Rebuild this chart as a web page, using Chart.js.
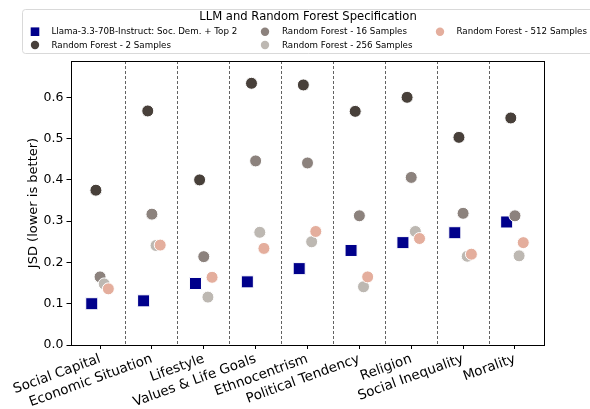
<!DOCTYPE html>
<html>
<head>
<meta charset="utf-8">
<script src="https://cdn.jsdelivr.net/npm/chart.js@4.4.0/dist/chart.umd.min.js"></script>
<style>
  html, body { margin: 0; padding: 0; background: #fff; }
  #wrap { width: 590px; height: 409px; position: relative; }
</style>
</head>
<body>
<div id="wrap"><canvas id="chart"></canvas></div>
<script>
const categories = ['Social Capital', 'Economic Situation', 'Lifestyle', 'Values & Life Goals', 'Ethnocentrism',
  'Political Tendency', 'Religion', 'Social Inequality', 'Morality'];

const seriesNames = ['Llama-3.3-70B-Instruct: Soc. Dem. + Top 2', 'Random Forest - 2 Samples',
  'Random Forest - 16 Samples', 'Random Forest - 256 Samples', 'Random Forest - 512 Samples'];

const llama = [0.100, 0.107, 0.149, 0.153, 0.185, 0.229, 0.248, 0.272, 0.298];
const rf2 = [0.375, 0.567, 0.400, 0.634, 0.630, 0.566, 0.600, 0.503, 0.550];
const rf16 = [0.165, 0.317, 0.214, 0.446, 0.441, 0.313, 0.406, 0.319, 0.313];
const rf256 = [0.148, 0.241, 0.116, 0.273, 0.250, 0.141, 0.275, 0.215, 0.216];
const rf512 = [0.136, 0.242, 0.164, 0.234, 0.275, 0.165, 0.258, 0.220, 0.248];

const allSeries = [llama, rf2, rf16, rf256, rf512];
const colors = ['#00008b', '#48403a', '#8c827d', '#bdb8b2', '#e4ae9d'];
const dodge = [-0.16, -0.08, 0, 0.08, 0.16];

Chart.defaults.font.family = 'DejaVu Sans';
Chart.defaults.color = '#000';

const datasets = allSeries.map((vals, s) => ({
  label: seriesNames[s],
  data: vals.map((v, i) => ({ x: i + dodge[s], y: v })),
  pointStyle: s === 0 ? 'rect' : 'circle',
  pointRadius: s === 0 ? 8.5 : 6,
  backgroundColor: colors[s],
  borderColor: '#fff',
  borderWidth: 1,
  showLine: false,
  order: -s
}));

// frame round the plot + legend drawn in columns like matplotlib
const frameAndLegend = {
  id: 'frameAndLegend',
  afterDraw(chart) {
    const c = chart.ctx;
    const a = chart.chartArea;
    c.save();
    c.strokeStyle = '#000';
    c.lineWidth = 1;
    c.strokeRect(Math.round(a.left) + 0.5, Math.round(a.top) + 0.5, Math.round(a.right - a.left), Math.round(a.bottom - a.top));

    c.beginPath();
    c.roundRect(22.5, 9.5, 580, 44, 3);
    c.fillStyle = 'rgba(255,255,255,0.8)';
    c.fill();
    c.strokeStyle = '#d9d9d9';
    c.stroke();

    c.fillStyle = '#000';
    c.font = '11.6px "DejaVu Sans"';
    c.textAlign = 'center';
    c.textBaseline = 'middle';
    c.fillText('LLM and Random Forest Specification', 308, 17);

    const markerX = [35, 265, 440];
    const textX = [51.5, 282, 456.5];
    const rowY = [31.7, 45];
    c.font = '8.7px "DejaVu Sans"';
    c.textAlign = 'left';
    chart.data.datasets.forEach((ds, i) => {
      const col = Math.floor(i / 2), row = i % 2;
      const mx = markerX[col], my = rowY[row];
      c.fillStyle = ds.backgroundColor;
      if (ds.pointStyle === 'rect') {
        c.fillRect(mx - 4.3, my - 4.3, 8.6, 8.6);
      } else {
        c.beginPath();
        c.arc(mx, my, 4.2, 0, Math.PI * 2);
        c.fill();
      }
      c.fillStyle = '#000';
      c.fillText(ds.label, textX[col], my + 0.5);
    });
    c.restore();
  }
};

new Chart(document.getElementById('chart'), {
  type: 'scatter',
  data: { datasets },
  plugins: [frameAndLegend],
  options: {
    responsive: true,
    maintainAspectRatio: false,
    animation: false,
    events: [],
    layout: { padding: { left: 22, top: 61, right: 46, bottom: 0 } },
    plugins: { legend: { display: false }, tooltip: { enabled: false } },
    scales: {
      x: {
        type: 'linear',
        min: -0.56,
        max: 8.56,
        afterBuildTicks: s => { s.ticks = categories.map((_, i) => ({ value: i })); },
        afterFit: s => { s.height = 64; },
        ticks: {
          autoSkip: false,
          minRotation: 20,
          maxRotation: 20,
          padding: 2,
          font: { size: 13.5 },
          callback: (v) => categories[v]
        },
        grid: { drawOnChartArea: false, drawTicks: true, tickLength: 4, color: '#000' },
        border: { color: '#000', width: 1 }
      },
      sep: {
        type: 'linear',
        position: 'bottom',
        min: -0.56,
        max: 8.56,
        afterBuildTicks: s => { s.ticks = categories.slice(1).map((_, i) => ({ value: i + 0.5 })); },
        afterFit: s => { s.height = 0; },
        ticks: { display: false },
        grid: { drawTicks: false, color: 'rgba(70,70,70,0.85)', lineWidth: 1 },
        border: { display: false, dash: [3, 2] }
      },
      y: {
        min: 0,
        max: 0.688,
        afterFit: s => { s.width = 49; },
        ticks: {
          stepSize: 0.1,
          includeBounds: false,
          padding: 3,
          font: { size: 12.5 },
          callback: v => v.toFixed(1)
        },
        grid: { drawOnChartArea: false, drawTicks: true, tickLength: 4.5, color: '#000' },
        border: { color: '#000', width: 1 },
        title: { display: true, text: 'JSD (lower is better)', font: { size: 13 }, padding: { top: 4, bottom: 4 } }
      }
    }
  }
});
</script>
</body>
</html>
